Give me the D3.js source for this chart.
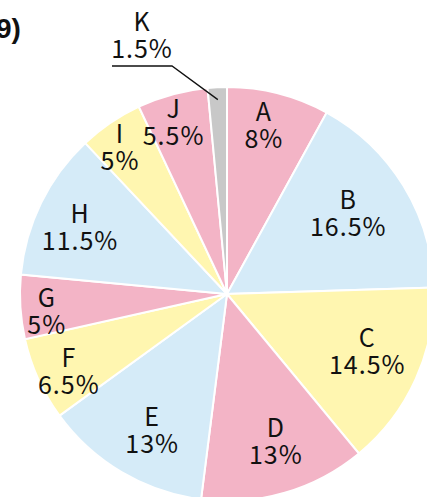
<!DOCTYPE html>
<html>
<head>
<meta charset="utf-8">
<script src="https://cdn.jsdelivr.net/npm/d3@7"></script>
<style>
  body { margin: 0; background: #fff; }
  svg { display: block; }
</style>
</head>
<body>
<svg></svg>
<script>
// chart data
var categories = ["A", "B", "C", "D", "E", "F", "G", "H", "I", "J", "K"];
var values = [8, 16.5, 14.5, 13, 13, 6.5, 5, 11.5, 5, 5.5, 1.5];
var valueLabels = ["8%", "16.5%", "14.5%", "13%", "13%", "6.5%", "5%", "11.5%", "5%", "5.5%", "1.5%"];
var colorNames = ["pink", "blue", "yellow", "pink", "blue", "yellow", "pink", "blue", "yellow", "pink", "gray"];
var title = "9)";

var palette = { pink: "#f3b4c6", blue: "#d5ebf8", yellow: "#fff6b0", gray: "#c8c8c8" };

var width = 427, height = 497;
var cx = 227, cy = 294, radius = 207;
var fontFam = "'Noto Sans CJK JP', 'Noto Sans', sans-serif";
var fontSize = 25;

var svg = d3.select("svg")
  .attr("width", width)
  .attr("height", height);

var data = categories.map(function(c, i) {
  return { name: c, value: values[i], label: valueLabels[i], color: palette[colorNames[i]] };
});

var pie = d3.pie().sort(null).value(function(d) { return d.value; });
var arcs = pie(data);

var arc = d3.arc().innerRadius(0).outerRadius(radius);

var g = svg.append("g").attr("transform", "translate(" + cx + "," + cy + ")");

g.selectAll("path")
  .data(arcs).enter()
  .append("path")
  .attr("d", arc)
  .attr("fill", function(d) { return d.data.color; })
  .attr("stroke", "#fff")
  .attr("stroke-width", 2);

// small slices get their labels pushed further out
function labelPos(d) {
  var r = radius * (0.95 - 0.015 * d.data.value);
  var a = (d.startAngle + d.endAngle) / 2 - 0.035;
  return [Math.sin(a) * r, -Math.cos(a) * r];
}

var inside = arcs.filter(function(d) { return d.data.name !== "K"; });

var lbl = g.selectAll("text.lbl")
  .data(inside).enter()
  .append("text")
  .attr("class", "lbl")
  .attr("text-anchor", "middle")
  .attr("font-family", fontFam)
  .attr("font-size", fontSize)
  .attr("letter-spacing", 1)
  .attr("fill", "#111")
  .attr("transform", function(d) {
    var p = labelPos(d);
    return "translate(" + p[0] + "," + p[1] + ")";
  });
lbl.append("tspan").attr("x", 0).attr("dy", "-0.2em").text(function(d) { return d.data.name; });
lbl.append("tspan").attr("x", 0).attr("dy", "1.08em").text(function(d) { return d.data.label; });

// K sits outside with a leader line
var k = arcs.filter(function(d) { return d.data.name === "K"; })[0];
var ka = (k.startAngle + k.endAngle) / 2;
var kr = radius * 0.94;
var kx = Math.sin(ka) * kr, ky = -Math.cos(ka) * kr;
var textX = 142 - cx, lineY = 66 - cy;

g.append("polyline")
  .attr("points", [[kx, ky], [textX + 30, lineY], [textX - 30, lineY]].map(function(p) { return p.join(","); }).join(" "))
  .attr("fill", "none")
  .attr("stroke", "#111")
  .attr("stroke-width", 1.3);

var kt = g.append("text")
  .attr("text-anchor", "middle")
  .attr("font-family", fontFam)
  .attr("font-size", fontSize)
  .attr("letter-spacing", 1)
  .attr("fill", "#111")
  .attr("transform", "translate(" + textX + "," + (lineY - 8) + ")");
kt.append("tspan").attr("x", 0).attr("dy", "-1.08em").text(k.data.name);
kt.append("tspan").attr("x", 0).attr("dy", "1.08em").text(k.data.label);

svg.append("text")
  .attr("x", -4)
  .attr("y", 38)
  .attr("font-family", "'Liberation Sans', Arial, sans-serif")
  .attr("font-weight", "bold")
  .attr("font-size", 28)
  .attr("fill", "#111")
  .text(title);
</script>
</body>
</html>
